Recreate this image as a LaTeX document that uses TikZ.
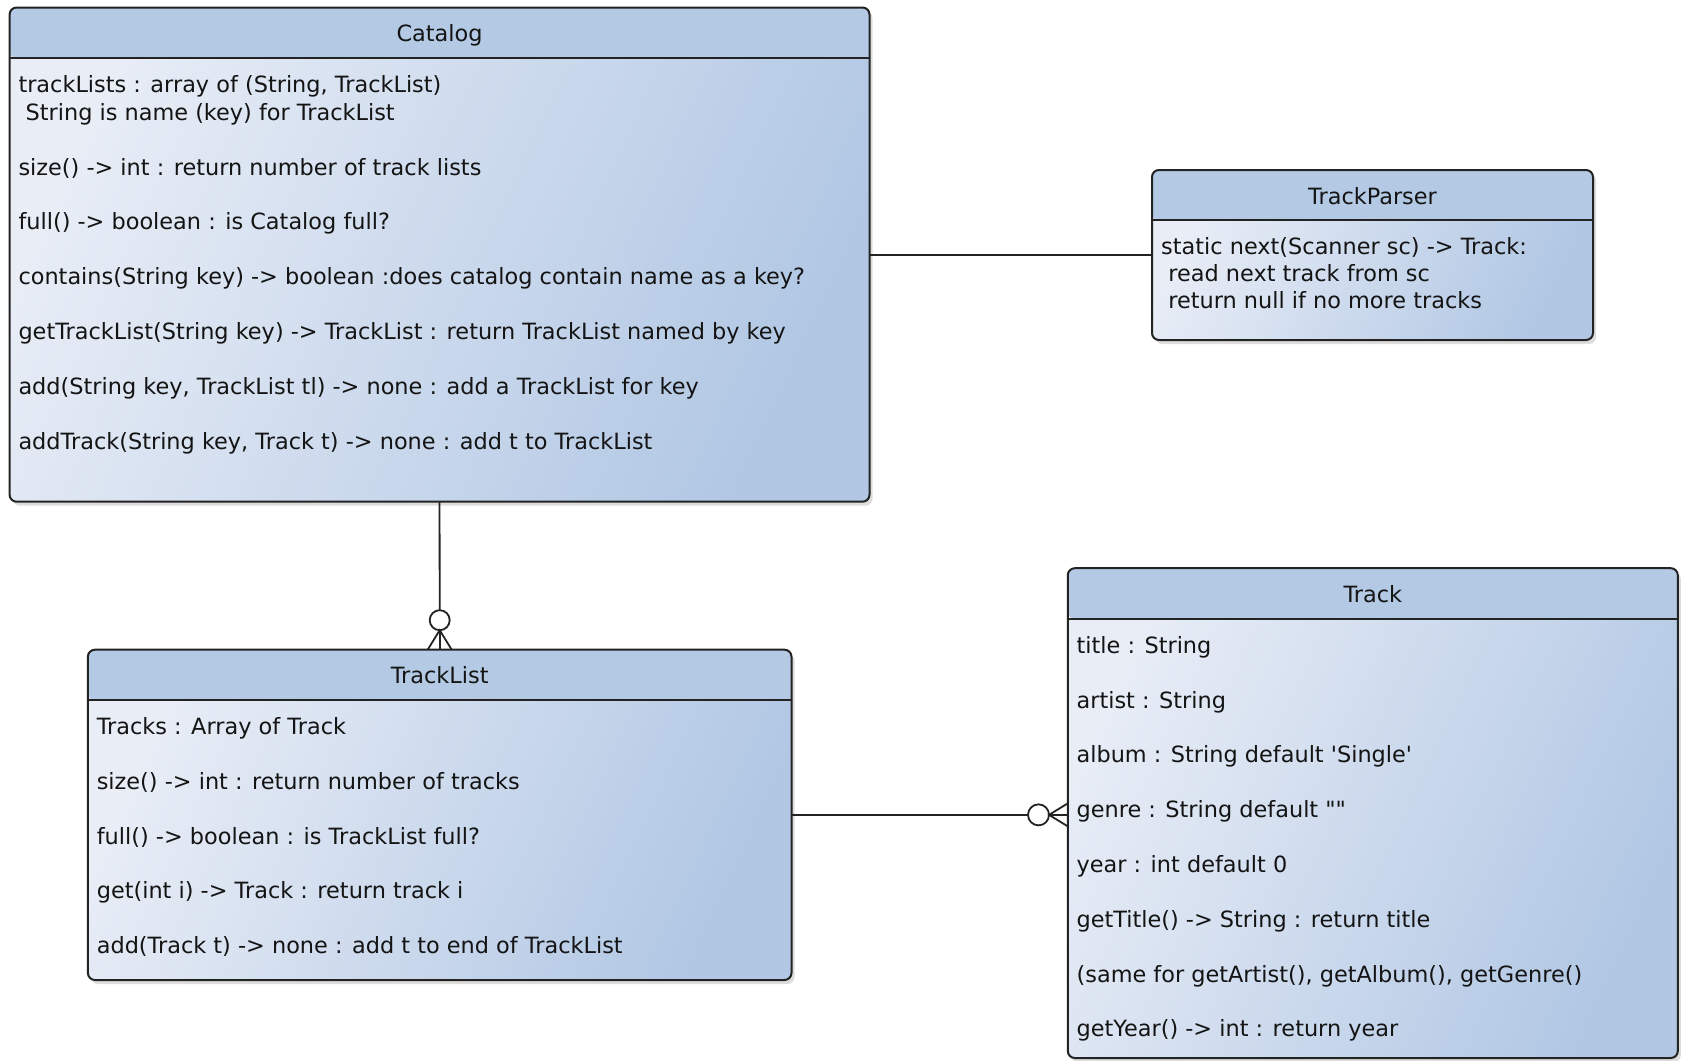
\documentclass[tikz,border=0pt]{standalone}
\usepackage{fontspec}
\newfontfamily\umlfont{DejaVu Sans}
\usetikzlibrary{shadows,calc}
\definecolor{hdrcol}{RGB}{179,201,228}
\definecolor{bodylight}{RGB}{232,237,246}
\definecolor{bodydark}{RGB}{177,199,228}
\definecolor{edgecol}{RGB}{35,35,35}
\definecolor{txtcol}{RGB}{20,20,20}
\begin{document}
\begin{tikzpicture}[x=1pt,y=-1pt,
  classbox/.style={draw=edgecol, line width=2pt, rounded corners=7pt, inner sep=0pt, outer sep=0pt, anchor=north west,
    drop shadow={shadow xshift=3pt, shadow yshift=-4pt, opacity=0.22, fill=black!60},
    path picture={
      \shade[top color=bodylight, bottom color=bodydark, shading angle=65] (path picture bounding box.north west) rectangle (path picture bounding box.south east);
      \fill[hdrcol] (path picture bounding box.north west) rectangle ([yshift=-50.4pt]path picture bounding box.north east);
      \draw[edgecol, line width=2pt] ([yshift=-50.4pt]path picture bounding box.north west) -- ([yshift=-50.4pt]path picture bounding box.north east);
    }},
  title/.style={font=\umlfont\fontsize{22.4}{26}\selectfont, text=txtcol, inner sep=0pt, anchor=base},
  member/.style={font=\umlfont\fontsize{22.4}{26}\selectfont, text=txtcol, inner sep=0pt, anchor=base west},
  conn/.style={draw=edgecol, line width=1.8pt},
  crowcircle/.style={draw=edgecol, line width=1.8pt, fill=white},
]
\useasboundingbox (0,0) rectangle (1681,1060);

% ---------------- boxes ----------------
\node[classbox, minimum width=859.9pt, minimum height=494.2pt] (catalog) at (9.6,7.5) {};
\node[classbox, minimum width=441pt, minimum height=170pt] (parser) at (1152,170) {};
\node[classbox, minimum width=703.6pt, minimum height=330.3pt] (tracklist) at (87.9,649.7) {};
\node[classbox, minimum width=610pt, minimum height=489.8pt] (track) at (1067.8,568.2) {};

% ---------------- Catalog ----------------
\node[title] (catT) at (439.55,41.7) {Catalog};
\node[member] (cat1) at (18.3,92.7) {trackLists : array of (String, TrackList)};
\node[member] (cat2) at (18.3,120.3) {\ String is name (key) for TrackList};
\node[member] (cat3) at (18.3,175) {size() -> int : return number of track lists};
\node[member] (cat4) at (18.3,229.8) {full() -> boolean : is Catalog full?};
\node[member] (cat5) at (18.3,284.6) {contains(String key) -> boolean :does catalog contain name as a key?};
\node[member] (cat6) at (18.3,339.4) {getTrackList(String key) -> TrackList : return TrackList named by key};
\node[member] (cat7) at (18.3,394.2) {add(String key, TrackList tl) -> none : add a TrackList for key};
\node[member] (cat8) at (18.3,449) {addTrack(String key, Track t) -> none : add t to TrackList};

% ---------------- TrackParser ----------------
\node[title] (parT) at (1372.5,204) {TrackParser};
\node[member] (par1) at (1161,254) {static next(Scanner sc) -> Track:};
\node[member] (par2) at (1161,281.3) {\ read next track from sc};
\node[member] (par3) at (1161,308.6) {\ return null if no more tracks};

% ---------------- TrackList ----------------
\node[title] (tlT) at (439.7,683.9) {TrackList};
\node[member] (tl1) at (96.6,734.5) {Tracks : Array of Track};
\node[member] (tl2) at (96.6,789.3) {size() -> int : return number of tracks};
\node[member] (tl3) at (96.6,844.1) {full() -> boolean : is TrackList full?};
\node[member] (tl4) at (96.6,898.9) {get(int i) -> Track : return track i};
\node[member] (tl5) at (96.6,953.7) {add(Track t) -> none : add t to end of TrackList};

% ---------------- Track ----------------
\node[title] (trT) at (1372.8,602.4) {Track};
\node[member] (tr1) at (1076.4,653.3) {title : String};
\node[member] (tr2) at (1076.4,708.1) {artist : String};
\node[member] (tr3) at (1076.4,762.9) {album : String default 'Single'};
\node[member] (tr4) at (1076.4,817.7) {genre : String default ""};
\node[member] (tr5) at (1076.4,872.5) {year : int default 0};
\node[member] (tr6) at (1076.4,927.3) {getTitle() -> String : return title};
\node[member] (tr7) at (1076.4,982.1) {(same for getArtist(), getAlbum(), getGenre()};
\node[member] (tr8) at (1076.4,1036.9) {getYear() -> int : return year};

% ---------------- connectors ----------------
% Catalog -- TrackParser
\draw[conn] (catalog.east |- parser.west) -- (parser.west);

% Catalog -- TrackList (zero or many)
\coordinate (c1) at ($(tracklist.north)+(0,-29.5)$);
\draw[conn] (catalog.south) -- ($(c1)+(0,-10)$);
\draw[crowcircle] (c1) circle[radius=10pt];
\draw[conn] ($(tracklist.north)+(-12,0)$) -- ($(c1)+(0,10)$) -- ($(tracklist.north)+(12,0)$);
\draw[conn] ($(c1)+(0,10)$) -- (tracklist.north);

% TrackList -- Track (zero or many)
\coordinate (c2) at ($(tracklist.east -| track.west)+(-29.3,0)$);
\draw[conn] (tracklist.east) -- ($(c2)+(-10.5,0)$);
\draw[crowcircle] (c2) circle[radius=10.5pt];
\draw[conn] ($(tracklist.east -| track.west)+(0,-11.5)$) -- ($(c2)+(10.5,0)$) -- ($(tracklist.east -| track.west)+(0,11.5)$);
\draw[conn] ($(c2)+(10.5,0)$) -- (tracklist.east -| track.west);
\end{tikzpicture}
\end{document}
